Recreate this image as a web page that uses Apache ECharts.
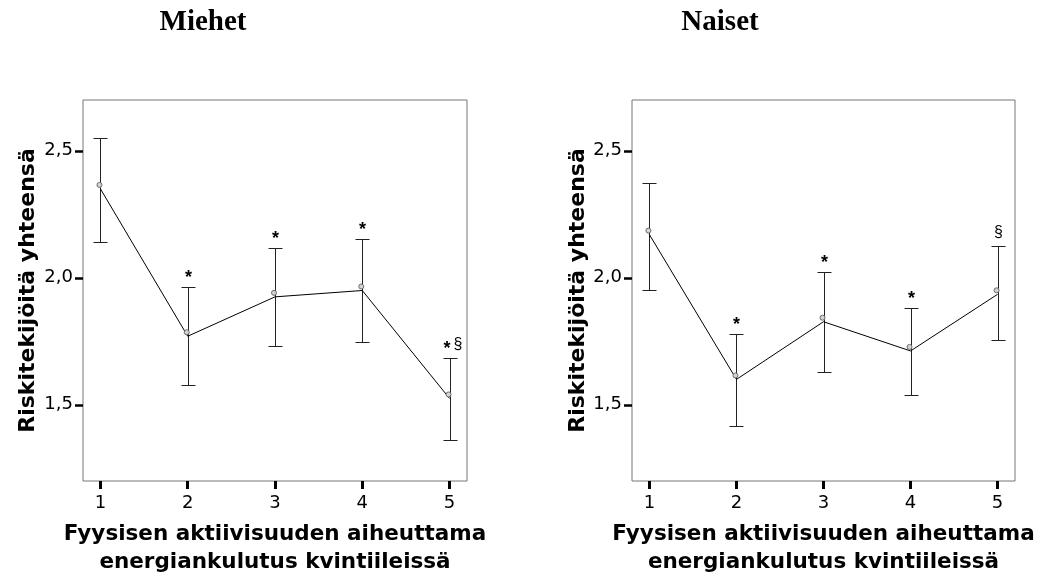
<!DOCTYPE html>
<html>
<head>
<meta charset="utf-8">
<script src="https://cdn.jsdelivr.net/npm/echarts@6/dist/echarts.min.js"></script>
<style>
  html, body { margin: 0; padding: 0; background: #fff; }
  #chart { width: 1042px; height: 581px; }
</style>
</head>
<body>
<div id="chart"></div>
<script>
// ---- data ----
const categories = [1, 2, 3, 4, 5];
const yTicks = [1.5, 2.0, 2.5];

const menMean = [2.35, 1.77, 1.925, 1.95, 1.525];
const menLow  = [2.142, 1.576, 1.731, 1.747, 1.361];
const menHigh = [2.552, 1.965, 2.117, 2.154, 1.685];
const menMarks = ['', '*', '*', '*', '*§'];

const womenMean = [2.17, 1.60, 1.827, 1.712, 1.935];
const womenLow  = [1.952, 1.415, 1.628, 1.539, 1.757];
const womenHigh = [2.374, 1.778, 2.024, 1.883, 2.125];
const womenMarks = ['', '*', '*', '*', '§'];

const titles = ['Miehet', 'Naiset'];
const yTitle = 'Riskitekijöitä yhteensä';
const xTitle = 'Fyysisen aktiivisuuden aiheuttama\nenergiankulutus kvintiileissä';

// ---- helpers ----
const sans = 'DejaVu Sans';

function errRender(marks) {
  return function (params, api) {
    const i = params.dataIndex;
    const x = api.value(0), lo = api.value(1), hi = api.value(2);
    const pLo = api.coord([x, lo]);
    const pHi = api.coord([x, hi]);
    const cx = Math.round(pLo[0]) + 0.5;
    const yLo = Math.round(pLo[1]) + 0.5;
    const yHi = Math.round(pHi[1]) + 0.5;
    const hw = 7;
    const st = { stroke: '#222', lineWidth: 1 };
    const children = [
      { type: 'line', shape: { x1: cx, y1: yLo, x2: cx, y2: yHi }, style: st },
      { type: 'line', shape: { x1: cx - hw, y1: yLo, x2: cx + hw, y2: yLo }, style: st },
      { type: 'line', shape: { x1: cx - hw, y1: yHi, x2: cx + hw, y2: yHi }, style: st }
    ];
    const chars = (marks[i] || '').split('');
    const step = 11;
    const start = cx - (chars.length - 1) * step / 2 + (chars.length > 1 ? 2 : 0);
    chars.forEach(function (ch, k) {
      const isStar = ch === '*';
      children.push({
        type: 'text',
        style: {
          text: ch,
          x: start + k * step,
          y: yHi - (isStar ? 9.6 : 14.3),
          align: 'center',
          verticalAlign: 'middle',
          fill: '#000',
          font: (isStar ? 'bold 18px' : '16px') + ' "Liberation Sans", Arial, sans-serif'
        }
      });
    });
    return { type: 'group', children: children };
  };
}

function makeX(gridIndex) {
  return {
    type: 'value', gridIndex: gridIndex, min: 0.8, max: 5.2,
    splitLine: { show: false },
    axisLine: { show: false },
    axisTick: { show: true, inside: false, length: 8, customValues: categories,
      lineStyle: { color: '#000', width: 3 } },
    axisLabel: { customValues: categories, margin: 13, color: '#000',
      fontFamily: sans, fontSize: 18, formatter: function (v) { return String(v); } },
    name: xTitle, nameLocation: 'middle', nameGap: 39,
    nameTextStyle: { fontFamily: sans, fontWeight: 'bold', fontSize: 21.5,
      lineHeight: 28, color: '#000' }
  };
}

function makeY(gridIndex, gap) {
  return {
    type: 'value', gridIndex: gridIndex, min: 1.2, max: 2.7,
    splitLine: { show: false },
    axisLine: { show: false },
    axisTick: { show: true, inside: false, length: 8, customValues: yTicks,
      lineStyle: { color: '#000', width: 2.5 } },
    axisLabel: { customValues: yTicks, margin: 10, color: '#000',
      fontFamily: sans, fontSize: 18,
      formatter: function (v) { return v.toFixed(1).replace('.', ','); } },
    name: yTitle, nameLocation: 'middle', nameGap: gap,
    nameTextStyle: { fontFamily: sans, fontWeight: 'bold', fontSize: 22,
      lineHeight: 22, color: '#000' }
  };
}

function meanSeries(idx, mean) {
  return {
    type: 'line', xAxisIndex: idx, yAxisIndex: idx,
    data: categories.map(function (c, i) { return [c, mean[i]]; }),
    lineStyle: { color: '#000', width: 1 },
    symbol: 'circle', symbolSize: 5, symbolOffset: [-1, -4],
    itemStyle: { color: '#d4d4d4', borderColor: '#6a6a6a', borderWidth: 1 },
    z: 3
  };
}

function errSeries(idx, low, high, marks) {
  return {
    type: 'custom', xAxisIndex: idx, yAxisIndex: idx,
    data: categories.map(function (c, i) { return [c, low[i], high[i]]; }),
    encode: { x: 0, y: [1, 2] },
    renderItem: errRender(marks),
    z: 2
  };
}

const chart = echarts.init(document.getElementById('chart'), null, { renderer: 'canvas' });
chart.setOption({
  animation: false,
  backgroundColor: '#fff',
  title: [
    { text: titles[0], left: 203, top: 8, padding: 0, textAlign: 'center',
      textStyle: { fontFamily: '"Liberation Serif", "Times New Roman", serif', fontWeight: 'bold', fontSize: 29, color: '#000' } },
    { text: titles[1], left: 720, top: 8, padding: 0, textAlign: 'center',
      textStyle: { fontFamily: '"Liberation Serif", "Times New Roman", serif', fontWeight: 'bold', fontSize: 29, color: '#000' } }
  ],
  grid: [
    { left: 83, width: 384, top: 100, height: 381, show: true, borderColor: '#777', borderWidth: 1, backgroundColor: '#fff' },
    { left: 632, width: 383, top: 100, height: 382, show: true, borderColor: '#777', borderWidth: 1, backgroundColor: '#fff' }
  ],
  xAxis: [makeX(0), makeX(1)],
  yAxis: [makeY(0, 44), makeY(1, 43)],
  series: [
    errSeries(0, menLow, menHigh, menMarks),
    meanSeries(0, menMean),
    errSeries(1, womenLow, womenHigh, womenMarks),
    meanSeries(1, womenMean)
  ]
});
</script>
</body>
</html>
